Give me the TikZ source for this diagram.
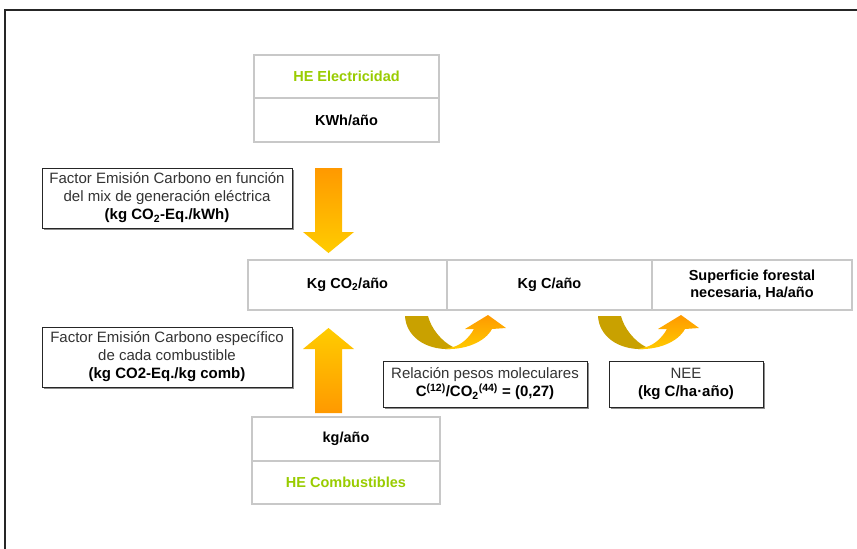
\documentclass[tikz,border=0pt]{standalone}
\usepackage{fontspec}
\setmainfont{Liberation Sans}
\usetikzlibrary{shadows}
\definecolor{hegreen}{HTML}{99CC00}
\definecolor{boxgray}{HTML}{C8C8C8}
\definecolor{arrOr}{HTML}{FF9900}
\definecolor{arrYe}{HTML}{FFCC00}
\definecolor{arrGold}{HTML}{C9A100}
\definecolor{txtgray}{HTML}{333333}
\tikzset{
  basefont/.style={font=\fontsize{14.5}{17}\selectfont},
  cell/.style={basefont, draw=boxgray, line width=1.4pt, fill=white, align=center, inner sep=0pt, outer sep=0pt},
  tbox/.style={font=\fontsize{15}{18}\selectfont, draw=black!85, line width=0.8pt, fill=white, align=center, inner sep=0pt,
    text=txtgray, drop shadow={shadow xshift=1.5pt, shadow yshift=-1.5pt, opacity=1, fill=black!45}},
  hetext/.style={text=hegreen, font=\fontsize{14.5}{17}\selectfont\bfseries},
  pics/curvarrow/.style={code={
    \fill[arrGold] (0,0) .. controls (1,20) and (20,34) .. (45,33) -- (48,31)
       .. controls (36,25) and (26,12) .. (23,0) -- cycle;
    \shade[top color=arrOr, bottom color=arrYe] (40,33) .. controls (60,34) and (80,26) .. (87,13)
       -- (101,12) -- (83,-1) -- (60,13) -- (69,13)
       .. controls (64,22) and (56,29) .. (48,31) -- cycle;
  }}
}
\begin{document}
\begin{tikzpicture}[x=1pt,y=-1pt]
\useasboundingbox (0,0) rectangle (857,549);
% frame
\draw[line width=2.2pt, black!85] (5,549) -- (5,10) -- (857,10);

% HE Electricidad box
\node[cell, minimum width=185pt, minimum height=43pt, hetext] (heel) at (346.5,76.5) {HE Electricidad};
\node[cell, minimum width=185pt, minimum height=44pt, font=\fontsize{14.5}{17}\selectfont\bfseries] (kwh) at (346.5,120) {KWh/año};

% main row
\node[cell, minimum width=199pt, minimum height=50pt, font=\fontsize{14.5}{17}\selectfont\bfseries] (co2) at (347.5,285) {Kg CO\textsubscript{2}/año};
\node[cell, minimum width=205pt, minimum height=50pt, font=\fontsize{14.5}{17}\selectfont\bfseries] (kgc) at (549.5,285) {Kg C/año};
\node[cell, minimum width=200pt, minimum height=50pt, font=\fontsize{14.5}{17}\selectfont\bfseries] (sup) at (752,285) {Superficie forestal\\necesaria, Ha/año};

% HE Combustibles box
\node[cell, minimum width=188pt, minimum height=44pt, font=\fontsize{14.5}{17}\selectfont\bfseries] (kga) at (346,439) {kg/año};
\node[cell, minimum width=188pt, minimum height=43pt, hetext] (hecomb) at (346,482.5) {HE Combustibles};

% text boxes
\node[tbox, minimum width=250pt, minimum height=60pt] (tb1) at (167,198)
  {Factor Emisión Carbono en función\\del mix de generación eléctrica\\\textcolor{black}{\bfseries (kg CO\textsubscript{2}-Eq./kWh)}};
\node[tbox, minimum width=250pt, minimum height=60pt] (tb2) at (167,357)
  {Factor Emisión Carbono específico\\de cada combustible\\\textcolor{black}{\bfseries (kg CO2-Eq./kg comb)}};
\node[tbox, minimum width=204pt, minimum height=46pt] (rel) at (485,384)
  {Relación pesos moleculares\\\textcolor{black}{\bfseries C\textsuperscript{(12)}/CO\textsubscript{2}\textsuperscript{(44)} = (0,27)}};
\node[tbox, minimum width=154pt, minimum height=46pt] (nee) at (686,384)
  {NEE\\\textcolor{black}{\bfseries (kg C/ha·año)}};

% block arrows
\shade[top color=arrOr, bottom color=arrYe] (315,168) -- (342,168) -- (342,232) -- (354,232)
  -- (328.5,253) -- (303,232) -- (315,232) -- cycle;
\shade[top color=arrYe, bottom color=arrOr] (315,413) -- (342,413) -- (342,349) -- (354,349)
  -- (328.5,328) -- (303,349) -- (315,349) -- cycle;

% curved arrows
\pic at (405,316) {curvarrow};
\pic at (598,316) {curvarrow};
\end{tikzpicture}
\end{document}
